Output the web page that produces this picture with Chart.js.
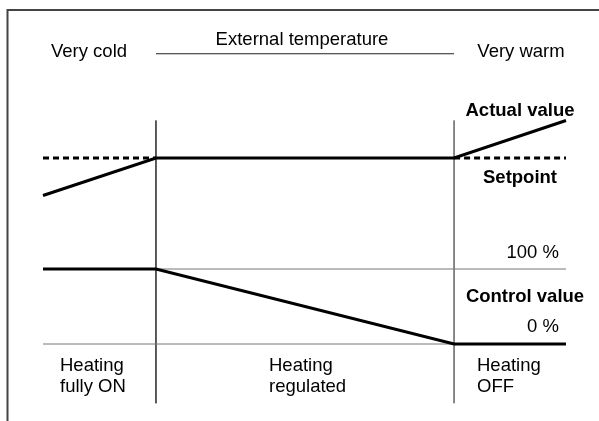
<!DOCTYPE html>
<html>
<head>
<meta charset="utf-8">
<script src="https://cdn.jsdelivr.net/npm/chart.js@4.4.0/dist/chart.umd.min.js"></script>
<style>
  html, body { margin: 0; padding: 0; background: #fff; }
  #wrap { position: relative; width: 599px; height: 421px; }
</style>
</head>
<body>
<div id="wrap"><canvas id="myChart"></canvas></div>
<script>
// --- data (x: external temperature scale 0..100, y: temperature, y2: control value %) ---
const zoneEdges = [0, 21.6, 78.6, 100];          // very cold | regulated | very warm
const actualValue = [15, 20, 20, 25];             // actual room temperature
const setpointValue = [20, 20, 20, 20];           // setpoint
const controlValue = [100, 100, 0, 0];            // control value in %
const controlTicks = [100, 0];                    // reference lines (100 %, 0 %)
const dividerRange = [25, -12.7];                 // vertical zone dividers (top, bottom)
const headerLineY = 33.9;                         // line under "External temperature"

const regionLabels = [
  ['Heating', 'fully ON'],
  ['Heating', 'regulated'],
  ['Heating', 'OFF']
];

document.addEventListener("DOMContentLoaded", () => {

    const pts = (xs, ys) => xs.map((x, i) => ({ x: x, y: ys[i] }));

    const thin = { borderWidth: 1, pointRadius: 0, clip: false, fill: false, tension: 0 };
    const FONT = '18.5px "Liberation Sans", Arial, sans-serif';

    // text drawn around the plot
    const texts = [
        { t: 'Very cold', x: 89, y: 57, align: 'center' },
        { t: 'External temperature', x: 302, y: 45, align: 'center' },
        { t: 'Very warm', x: 521, y: 57, align: 'center' },
        { t: 'Actual value', x: 520, y: 116, align: 'center', bold: true },
        { t: 'Setpoint', x: 520, y: 183, align: 'center', bold: true },
        { t: '100 %', x: 559, y: 258, align: 'right' },
        { t: 'Control value', x: 525, y: 302, align: 'center', bold: true },
        { t: '0 %', x: 559, y: 332, align: 'right' }
    ];
    const regionX = [60, 269, 477];

    const decor = {
        id: 'decor',
        beforeDraw(chart) {
            const c = chart.ctx;
            c.save();
            c.fillStyle = '#fff';
            c.fillRect(0, 0, chart.width, chart.height);
            c.strokeStyle = '#444';
            c.lineWidth = 2;
            c.beginPath();
            c.moveTo(7.5, 421);
            c.lineTo(7.5, 10);
            c.lineTo(599, 10);
            c.stroke();
            c.restore();
        },
        afterDraw(chart) {
            const c = chart.ctx;
            c.save();
            c.fillStyle = '#000';
            c.textBaseline = 'alphabetic';
            texts.forEach(o => {
                c.font = (o.bold ? 'bold ' : '') + FONT;
                c.textAlign = o.align;
                c.fillText(o.t, o.x, o.y);
            });
            c.font = FONT;
            c.textAlign = 'left';
            regionLabels.forEach((lines, i) => {
                lines.forEach((l, j) => c.fillText(l, regionX[i], 371 + j * 21));
            });
            c.restore();
        }
    };

    const ctx = document.getElementById('myChart').getContext('2d');
    const myChart = new Chart(ctx, {
        type: 'line',
        data: {
            datasets: [
                Object.assign({}, thin, {
                    label: 'Actual value',
                    data: pts(zoneEdges, actualValue),
                    borderColor: '#000', borderWidth: 3, yAxisID: 'y'
                }),
                Object.assign({}, thin, {
                    label: 'Control value',
                    data: pts(zoneEdges, controlValue),
                    borderColor: '#000', borderWidth: 3, yAxisID: 'y2'
                }),
                Object.assign({}, thin, {
                    label: 'Setpoint',
                    data: pts(zoneEdges, setpointValue),
                    borderColor: '#000', borderWidth: 3, borderDash: [6, 4], yAxisID: 'y',
                    // the middle part coincides with the actual value line
                    segment: { borderColor: s => s.p0DataIndex === 1 ? 'rgba(0,0,0,0)' : undefined }
                }),
                Object.assign({}, thin, {
                    label: '100 %',
                    data: pts([zoneEdges[1], zoneEdges[3]], [controlTicks[0], controlTicks[0]]),
                    borderColor: '#777', yAxisID: 'y2'
                }),
                Object.assign({}, thin, {
                    label: '0 %',
                    data: pts([zoneEdges[0], zoneEdges[2]], [controlTicks[1], controlTicks[1]]),
                    borderColor: '#777', yAxisID: 'y2'
                }),
                Object.assign({}, thin, {
                    label: 'divider 1',
                    data: pts([zoneEdges[1], zoneEdges[1]], dividerRange),
                    borderColor: '#444', yAxisID: 'y'
                }),
                Object.assign({}, thin, {
                    label: 'divider 2',
                    data: pts([zoneEdges[2], zoneEdges[2]], dividerRange),
                    borderColor: '#777', yAxisID: 'y'
                }),
                Object.assign({}, thin, {
                    label: 'External temperature',
                    data: pts([zoneEdges[1], zoneEdges[2]], [headerLineY, headerLineY]),
                    borderColor: '#222', yAxisID: 'y'
                })
            ]
        },
        options: {
            responsive: true,
            maintainAspectRatio: false,
            animation: false,
            events: [],
            layout: { padding: { left: 43, right: 33, top: 98, bottom: 17.75 } },
            plugins: {
                legend: { display: false },
                title: { display: false },
                tooltip: { enabled: false }
            },
            scales: {
                x: { type: 'linear', min: 0, max: 100, display: false },
                y: { type: 'linear', min: -12.7, max: 28, display: false },
                y2: { type: 'linear', min: -79, max: 328, display: false }
            }
        },
        plugins: [decor]
    });
});
</script>
</body>
</html>
